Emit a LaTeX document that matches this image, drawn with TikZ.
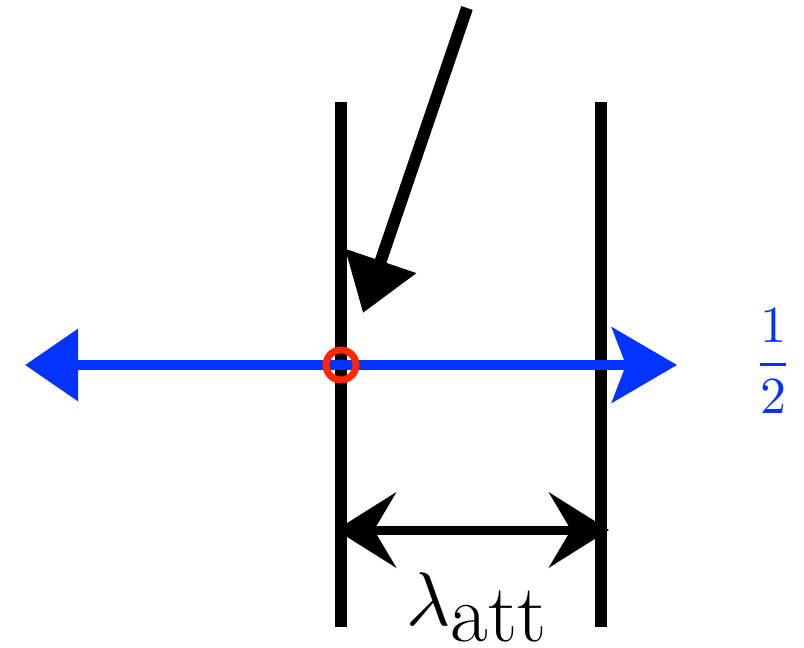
\documentclass[tikz,border=0pt]{standalone}
\usepackage{graphicx}
\usetikzlibrary{arrows.meta}
\definecolor{myblue}{RGB}{4,51,255}
\definecolor{myred}{RGB}{255,38,0}
\newcommand{\biglam}{{\normalsize\scalebox{7.6}{$\lambda$}}}
\begin{document}
\begin{tikzpicture}[x=1pt,y=-1pt,
  wall/.style={line width=12pt,black},
  blueline/.style={line width=10pt,myblue},
  dimline/.style={line width=9pt,black},
  inarrow/.style={line width=12pt,black,-{Triangle[length=55pt,width=72pt]}}]
\useasboundingbox (0,0) rectangle (804,648);
% coordinates
\coordinate (w1t) at (341,102);
\coordinate (w1b) at (341,627);
\coordinate (w2t) at (601,102);
\coordinate (w2b) at (601,627);
\coordinate (bl) at (25,365);
\coordinate (br) at (677,365);
\coordinate (d0) at (467,8);
\coordinate (d1) at (363,313);
\coordinate (ml) at (336,530);
\coordinate (mr) at (609,530);
% walls
\draw[wall] (w1t) -- (w1b);
\draw[wall] (w2t) -- (w2b);
% incoming arrow
\draw[inarrow] (d0) -- (d1);
% blue double arrow
\draw[blueline,{Triangle[length=53pt,width=70pt]}-{Stealth[length=65pt,width=75pt,inset=14pt]}] (bl) -- (br);
% red circle
\node[draw=myred,line width=7pt,circle,minimum size=30pt,inner sep=0pt] (spot) at (341,365) {};
% dimension arrow
\draw[dimline,{Stealth[length=60pt,width=75pt,inset=22pt]}-{Stealth[length=60pt,width=75pt,inset=22pt]}] (ml) -- (mr);
% labels
\node[anchor=base west,inner sep=0pt] (lab) at (406,641)
  {\raisebox{16pt}{\biglam}\fontsize{82}{82}\selectfont att};
\node[myblue,inner sep=0pt] (half) at (773,361)
  {\scalebox{5.2}{$\displaystyle\frac{1}{2}$}};
\end{tikzpicture}
\end{document}
